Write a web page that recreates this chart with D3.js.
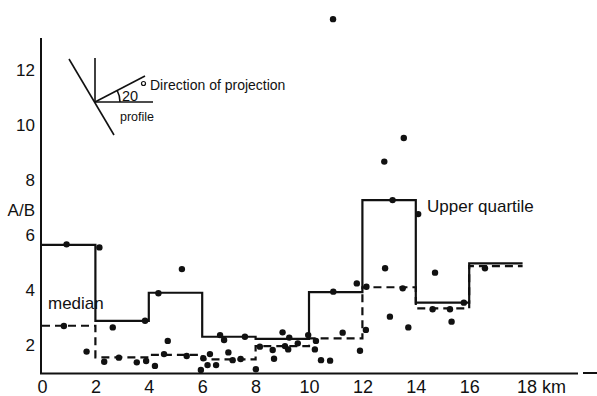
<!DOCTYPE html>
<html>
<head>
<meta charset="utf-8">
<script src="https://cdn.jsdelivr.net/npm/d3@7"></script>
<style>
  html, body { margin: 0; padding: 0; background: #fff; }
  svg { display: block; }
  text { font-family: "Liberation Sans", Arial, sans-serif; fill: #111; }
</style>
</head>
<body>
<div id="chart"></div>
<script>
// ---- data ----
const binEdges = [0, 2, 4, 6, 8, 10, 12, 14, 16, 18];
const upperQuartile = [5.64, 2.88, 3.9, 2.3, 2.22, 3.92, 7.27, 3.54, 4.97];
const median = [2.7, 1.55, 1.64, 1.48, 1.96, 2.24, 4.1, 3.33, 4.87];
const pointX = [0.92, 2.15, 0.82, 1.67, 2.33, 2.65, 2.88, 3.55, 3.86, 3.9, 4.23, 4.36, 4.57, 4.71, 5.24, 5.42,
  5.95, 6.04, 6.2, 6.29, 6.52, 6.67, 6.82, 6.98, 7.14, 7.44, 7.6, 8.01, 8.16, 8.64, 8.69, 9.01, 9.1, 9.22,
  9.26, 9.58, 9.97, 10.22, 10.26, 10.45, 10.79, 10.91, 10.9, 11.26, 11.79, 11.91, 12.15, 12.13, 12.82,
  12.85, 13.03, 13.13, 13.51, 13.55, 13.72, 14.09, 14.63, 14.72, 15.28, 15.34, 15.8, 16.59];
const pointY = [5.66, 5.55, 2.69, 1.76, 1.39, 2.64, 1.54, 1.37, 2.88, 1.42, 1.24, 3.88, 1.67, 2.15, 4.76, 1.6,
  1.09, 1.52, 1.27, 1.67, 1.27, 2.36, 2.18, 1.73, 1.45, 1.49, 2.3, 1.12, 1.94, 1.82, 1.5, 2.46, 1.96, 1.84,
  2.27, 2.06, 2.36, 1.84, 2.15, 1.45, 1.43, 3.94, 13.85, 2.45, 4.24, 1.79, 4.12, 2.55, 8.67,
  4.79, 3.03, 7.27, 4.06, 9.53, 2.64, 6.76, 3.3, 4.63, 3.3, 2.85, 3.54, 4.79];
const yTicks = [2, 4, 6, 8, 10, 12];
const xTicks = [0, 2, 4, 6, 8, 10, 12, 14, 16, 18];

// ---- chart ----
const W = 597, H = 396;
const svg = d3.select("#chart").append("svg").attr("width", W).attr("height", H);

const x = d3.scaleLinear().domain([0, 18]).range([42, 522.6]);
const y = d3.scaleLinear().domain([1, 13]).range([372.5, 42.5]);

// axes lines
svg.append("line").attr("x1", 41).attr("x2", 41).attr("y1", 38).attr("y2", 374)
  .attr("stroke", "#111").attr("stroke-width", 2);
svg.append("line").attr("x1", 40).attr("x2", 578).attr("y1", 373.5).attr("y2", 373.5)
  .attr("stroke", "#111").attr("stroke-width", 2);
svg.append("line").attr("x1", 583).attr("x2", 597).attr("y1", 373).attr("y2", 373)
  .attr("stroke", "#111").attr("stroke-width", 2);

// y axis tick labels
const yAxis = svg.append("g").attr("transform", "translate(41,0)")
  .call(d3.axisLeft(y).tickValues(yTicks).tickSize(0).tickPadding(6));
yAxis.select(".domain").remove();
yAxis.selectAll("text").style("font-size", "17px").style("font-family", "Liberation Sans, Arial, sans-serif").attr("fill", "#111");

// x axis tick labels
const xAxis = svg.append("g").attr("transform", "translate(0,373)")
  .call(d3.axisBottom(x).tickValues(xTicks).tickSize(0).tickPadding(7)
    .tickFormat(d => d === 18 ? "18 km" : d));
xAxis.select(".domain").remove();
xAxis.selectAll("text").style("font-size", "18px").style("font-family", "Liberation Sans, Arial, sans-serif").attr("fill", "#111");
xAxis.selectAll(".tick").filter(d => d === 18).select("text")
  .attr("text-anchor", "start").attr("x", -6);

// step lines
function stepData(vals) {
  const pts = binEdges.slice(0, -1).map((e, i) => [e, vals[i]]);
  pts.push([binEdges[binEdges.length - 1], vals[vals.length - 1]]);
  return pts;
}
const stepLine = d3.line().x(d => x(d[0])).y(d => y(d[1])).curve(d3.curveStepAfter);

svg.append("path").datum(stepData(median))
  .attr("d", stepLine).attr("fill", "none").attr("stroke", "#111")
  .attr("stroke-width", 2.2).attr("stroke-dasharray", "8,5");
svg.append("path").datum(stepData(upperQuartile))
  .attr("d", stepLine).attr("fill", "none").attr("stroke", "#111")
  .attr("stroke-width", 2.2);

// points
svg.append("g").selectAll("circle").data(pointX.map((v, i) => [v, pointY[i]]))
  .join("circle").attr("cx", d => x(d[0])).attr("cy", d => y(d[1])).attr("r", 3.2).attr("fill", "#111");

// labels
svg.append("text").attr("x", 35).attr("y", 216).attr("text-anchor", "end")
  .style("font-size", "17px").text("A/B");
svg.append("text").attr("x", 48).attr("y", 309)
  .style("font-size", "17px").text("median");
svg.append("text").attr("x", 427).attr("y", 212)
  .style("font-size", "17px").text("Upper quartile");

// inset diagram (projection geometry)
const inset = svg.append("g").attr("stroke", "#111").attr("stroke-width", 1.6).attr("fill", "none");
inset.append("line").attr("x1", 95).attr("y1", 58).attr("x2", 95).attr("y2", 102);
inset.append("line").attr("x1", 69).attr("y1", 59).attr("x2", 114).attr("y2", 135);
inset.append("line").attr("x1", 95).attr("y1", 102).attr("x2", 153).attr("y2", 102);
inset.append("line").attr("x1", 95).attr("y1", 102).attr("x2", 145).attr("y2", 76);
inset.append("path").attr("d", "M120,102 A25,25 0 0 0 117.2,90.5");
svg.append("text").attr("x", 122).attr("y", 100.5).style("font-size", "14.5px").text("20");
svg.append("circle").attr("cx", 143.5).attr("cy", 83.5).attr("r", 2).attr("fill", "none")
  .attr("stroke", "#111").attr("stroke-width", 1.2);
svg.append("text").attr("x", 150).attr("y", 90).style("font-size", "14px").text("Direction of projection");
svg.append("text").attr("x", 120).attr("y", 121).style("font-size", "12.5px").text("profile");
</script>
</body>
</html>
